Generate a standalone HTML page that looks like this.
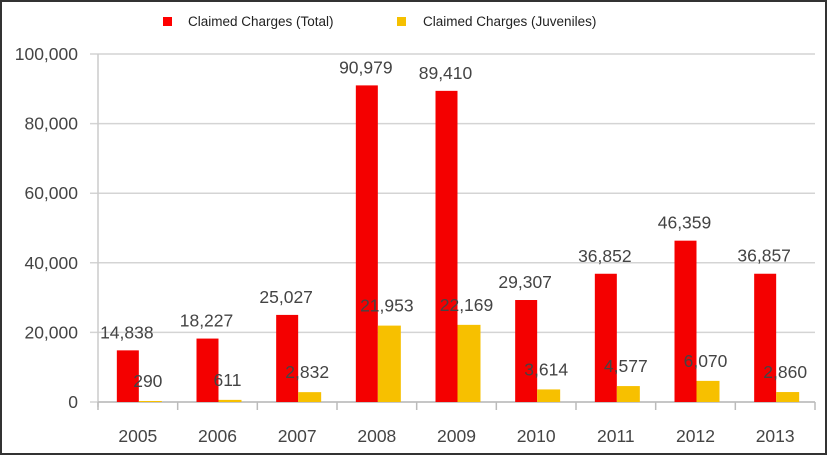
<!DOCTYPE html>
<html><head><meta charset="utf-8"><style>
body{margin:0;background:#fff}
svg{display:block}
text{font-family:"Liberation Sans",sans-serif}
</style></head><body>
<svg id="c" width="827" height="455">
<rect x="1" y="1" width="825" height="453" fill="#fff" stroke="#333" stroke-width="2"/>
<g>
<rect x="163" y="17" width="9" height="9" fill="#f00"/>
<text x="188" y="26" font-size="13.5" fill="#222">Claimed Charges (Total)</text>
<rect x="397" y="17" width="9" height="9" fill="#f5c000"/>
<text x="423" y="26" font-size="13.5" fill="#222">Claimed Charges (Juveniles)</text>
</g>
<g id="grid"></g><g id="bars"></g><g id="labels"></g>
</svg>
<script>
const categories=["2005","2006","2007","2008","2009","2010","2011","2012","2013"];
const totalValues=[14838,18227,25027,90979,89410,29307,36852,46359,36857];
const juvenileValues=[290,611,2832,21953,22169,3614,4577,6070,2860];
const yTicks=[0,20000,40000,60000,80000,100000];
const NS="http://www.w3.org/2000/svg";
const L=98,R=815,T=54,B=402;
const band=(R-L)/categories.length;
const x=i=>L+band*(i+0.5);
const y=v=>B-(v/100000)*(B-T);
const fmt=v=>v.toLocaleString("en-US");
function mk(tag,attrs,parent,txt){const e=document.createElementNS(NS,tag);for(const k in attrs)e.setAttribute(k,attrs[k]);if(txt!==undefined)e.textContent=txt;document.getElementById(parent).appendChild(e);return e;}
yTicks.forEach(t=>{
 const g=mk("line",{x1:L-8,x2:R,y1:y(t),y2:y(t),stroke:"#d4d4d4","stroke-width":1.5},"grid");
 
 
 const l=mk("text",{x:78,y:y(t)+6,"text-anchor":"end","font-size":17.5,fill:"#444"},"grid",fmt(t));
 
 
});
const ax=mk("line",{x1:L,x2:L,y1:T,y2:B+5,stroke:"#ccc","stroke-width":1.5},"grid");


const bx=mk("line",{x1:L,x2:R,y1:B,y2:B,stroke:"#bbb","stroke-width":1.5},"grid");


for(let i=0;i<=categories.length;i++){
 const tk=mk("line",{x1:L+band*i,x2:L+band*i,y1:B,y2:B+8,stroke:"#bbb","stroke-width":1.5},"grid");
 
 
}
categories.forEach((c,i)=>{
 const cx=x(i)+1;
 const r=mk("rect",{x:cx-22,y:y(totalValues[i]),width:22,height:B-y(totalValues[i]),fill:"#f40000"},"bars");
 
 
 const yb=mk("rect",{x:cx,y:y(juvenileValues[i]),width:23,height:B-y(juvenileValues[i]),fill:"#f7c000"},"bars");
 
 
 const tl=mk("text",{x:cx-12,y:y(totalValues[i])-12,"text-anchor":"middle","font-size":17.5,fill:"#444"},"labels",fmt(totalValues[i]));
 
 
 const jl=mk("text",{x:cx+9,y:y(juvenileValues[i])-14,"text-anchor":"middle","font-size":17.5,fill:"#444"},"labels",fmt(juvenileValues[i]));
 
 
 const xl=mk("text",{x:x(i),y:442,"text-anchor":"middle","font-size":17.5,fill:"#444"},"labels",c);
 
 
});
</script>
</body></html>
